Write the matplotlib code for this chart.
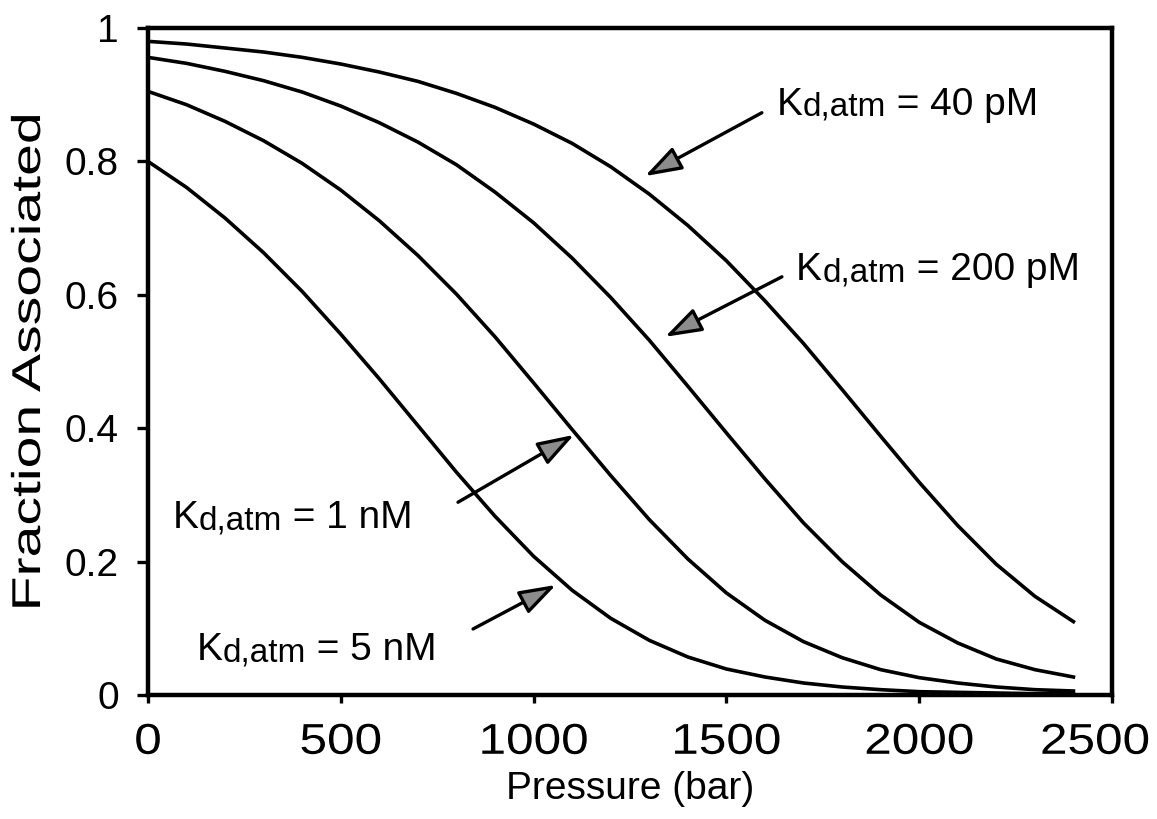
import matplotlib
matplotlib.use("Agg")
import matplotlib.pyplot as plt
from matplotlib.patheffects import AbstractPathEffect
from matplotlib.transforms import Affine2D, ScaledTranslation

plt.rcParams['font.family'] = ['Liberation Sans', 'DejaVu Sans']

# pressure grid (bar) and fraction associated for each Kd at 1 atm
pressure = [0, 100, 200, 300, 400, 500, 600, 700, 800, 900, 1000, 1100, 1200,
            1300, 1400, 1500, 1600, 1700, 1800, 1900, 2000, 2100, 2200, 2300, 2400]

frac_40pM = [0.980, 0.976, 0.970, 0.964, 0.956, 0.946, 0.934, 0.920, 0.902, 0.881,
             0.856, 0.827, 0.792, 0.751, 0.704, 0.651, 0.591, 0.527, 0.458, 0.388,
             0.319, 0.254, 0.196, 0.148, 0.110]
frac_200pM = [0.956, 0.947, 0.935, 0.921, 0.904, 0.883, 0.858, 0.829, 0.795, 0.754,
              0.708, 0.655, 0.596, 0.532, 0.463, 0.393, 0.324, 0.258, 0.200, 0.150,
              0.109, 0.078, 0.054, 0.038, 0.027]
frac_1nM = [0.905, 0.885, 0.860, 0.831, 0.797, 0.757, 0.711, 0.659, 0.601, 0.537,
            0.468, 0.398, 0.329, 0.263, 0.204, 0.153, 0.112, 0.080, 0.056, 0.038,
            0.026, 0.018, 0.012, 0.008, 0.006]
frac_5nM = [0.800, 0.761, 0.715, 0.663, 0.605, 0.541, 0.474, 0.404, 0.334, 0.268,
            0.208, 0.157, 0.115, 0.082, 0.057, 0.039, 0.027, 0.018, 0.012, 0.008,
            0.005, 0.004, 0.003, 0.002, 0.002]

curves = [frac_40pM, frac_200pM, frac_1nM, frac_5nM]
kd_labels = ["40 pM", "200 pM", "1 nM", "5 nM"]
# (text anchor, arrow tail, arrow tip) in data units
label_pos = [(1631, 0.870), (1681, 0.622), (65, 0.250), (127, 0.052)]
arrow_tail = [(1592, 0.873), (1644, 0.627), (804, 0.289), (843, 0.099)]
arrow_tip = [(1289, 0.778), (1341, 0.537), (1105, 0.390), (1058, 0.165)]


class Stretch(AbstractPathEffect):
    """Widen text glyphs along the baseline about their centre."""

    def __init__(self, sx):
        super().__init__()
        self.sx = sx

    def draw_path(self, renderer, gc, tpath, affine, rgbFace=None):
        ext = tpath.get_extents()
        cx = 0.5 * (ext.x0 + ext.x1)
        tr = Affine2D().translate(-cx, 0).scale(self.sx, 1).translate(cx, 0)
        renderer.draw_path(gc, tpath, tr + affine, rgbFace)


fig = plt.figure(figsize=(11.57, 8.19), dpi=100)
ax = fig.add_axes([0.1279, 0.1514, 0.8332, 0.8144])

for y in curves:
    ax.plot(pressure, y, color='black', lw=2.6, solid_joinstyle='round')

ax.set_xlim(0, 2500)
ax.set_ylim(0, 1)
ax.set_xticks([0, 500, 1000, 1500, 2000, 2500])
ax.set_yticks([0, 0.2, 0.4, 0.6, 0.8, 1])
ax.set_yticklabels(["0", "0.2", "0.4", "0.6", "0.8", "1"])
ax.tick_params(axis='both', direction='out', width=2.4, color='black')
ax.tick_params(axis='y', length=8, pad=13, labelsize=28)
ax.tick_params(axis='x', length=6, pad=14, labelsize=31)
for sp in ax.spines.values():
    sp.set_linewidth(3.2)
    sp.set_color('black')
xlabels = ax.get_xticklabels()
for lab in xlabels:
    lab.set_path_effects([Stretch(1.15)])
# last label pulled inside the figure edge
last = xlabels[-1]
last.set_transform(last.get_transform()
                   + ScaledTranslation(-0.17, 0, fig.dpi_scale_trans))

ax.set_xlabel("Pressure (bar)", fontsize=28, labelpad=6)
ylab = ax.set_ylabel("Fraction Associated", fontsize=29, labelpad=12)
ylab.set_path_effects([Stretch(1.42)])

arrow_style = dict(arrowstyle='-|>,head_length=0.75,head_width=0.25', lw=2.4,
                   ec='black', fc='0.55', mutation_scale=30,
                   shrinkA=0, shrinkB=0)

for lab, pos, tail, tip in zip(kd_labels, label_pos, arrow_tail, arrow_tip):
    k = ax.text(pos[0], pos[1], "K", fontsize=28, va='baseline', ha='left')
    sub = ax.annotate("d,atm", xy=(1, 0), xycoords=k, fontsize=24,
                      va='bottom', ha='left')
    ax.annotate(" = " + lab, xy=(1, 0), xycoords=sub, fontsize=28,
                va='bottom', ha='left')
    ax.annotate("", xy=tip, xytext=tail, arrowprops=arrow_style)

fig.savefig("out.png", dpi=100)
